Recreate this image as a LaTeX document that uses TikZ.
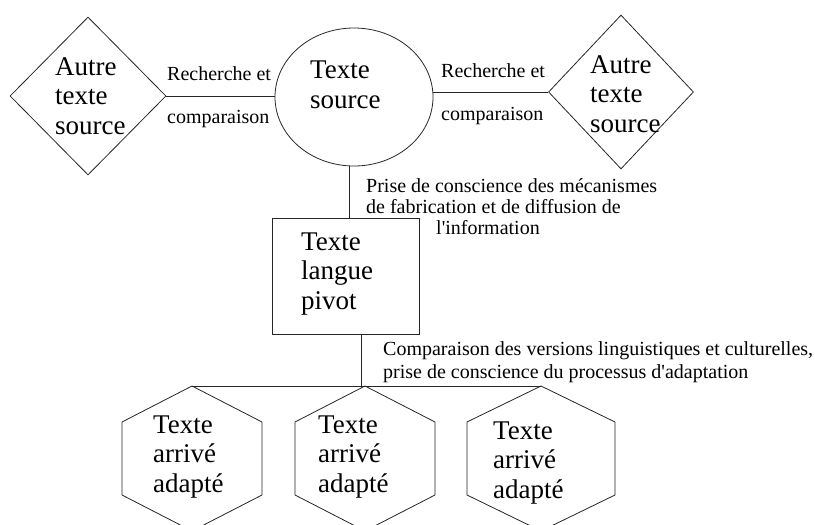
\documentclass[tikz,border=0pt]{standalone}
\usepackage{fontspec}
\setmainfont{Liberation Serif}
\usetikzlibrary{shapes.geometric,calc}
\tikzset{
  outline/.style={draw=black!85,line width=0.8pt},
  bigtext/.style={font=\fontsize{27}{29.5}\selectfont,align=left,anchor=base west,inner sep=0pt},
  smalltext/.style={font=\fontsize{20}{21}\selectfont,align=left,anchor=base west,inner sep=0pt},
}

\begin{document}
\begin{tikzpicture}[x=1pt,y=-1pt]
  \clip (0,0) rectangle (815,525);
  % top row (text nodes sit on the baseline of their last line)
  \node[outline,diamond,minimum width=156,minimum height=158,inner sep=0pt] (srcL) at (88,96) {};
  \node[outline,ellipse,minimum width=158,minimum height=138,inner sep=0pt] (srcC) at (354,97) {};
  \node[outline,diamond,minimum width=145,minimum height=154,inner sep=0pt] (srcR) at (621,92) {};
  \node[bigtext] (txtL) at (55,134) {Autre\\texte\\source};
  \node[bigtext] (txtC) at (310,108) {Texte\\source};
  \node[bigtext] (txtR) at (590,132) {Autre\\texte\\source};
  \draw[outline] (srcL.east) -- (srcL.east -| srcC.west);
  \draw[outline] (srcR.west) -- (srcR.west -| srcC.east);
  \node[smalltext] (lblSearchL) at (167,80) {Recherche et};
  \node[smalltext] (lblCompL) at (167,123) {comparaison};
  \node[smalltext] (lblSearchR) at (441,77) {Recherche et};
  \node[smalltext] (lblCompR) at (441,120) {comparaison};
  % pivot
  \node[outline,rectangle,minimum width=147,minimum height=116,inner sep=0pt] (pivot) at (345.5,276) {};
  \node[bigtext] (txtPivot) at (301,309) {Texte\\langue\\pivot};
  \coordinate (linkTop) at ([xshift=-5pt]srcC.south);
  \draw[outline] (linkTop) -- (linkTop |- pivot.north);
  \node[smalltext] (lblAware) at (366,234) {Prise de conscience des m\'ecanismes\\de fabrication et de diffusion de\\\hspace*{70pt}l\textquotesingle information};
  % target texts
  \coordinate (hexTopA) at (192,386);
  \coordinate (hexTopB) at (365,386);
  \coordinate (hexTopC) at (541,386);
  \coordinate (linkLow) at ([xshift=16pt]pivot.south);
  \draw[outline] (linkLow) -- (linkLow |- hexTopB);
  \draw[outline] (hexTopA) -- (hexTopC);
  \node[smalltext] (lblCompare) at (383,378) {Comparaison des versions linguistiques et culturelles,\\[2pt]prise de conscience du processus d\textquotesingle adaptation};
  \draw[outline] (hexTopA) -- ++(70,36) -- ++(0,73) -- ++(-70,36) -- ++(-70,-36) -- ++(0,-73) -- cycle;
  \draw[outline] (hexTopB) -- ++(70,36) -- ++(0,73) -- ++(-70,36) -- ++(-70,-36) -- ++(0,-73) -- cycle;
  \draw[outline] (hexTopC) -- ++(74,36) -- ++(0,73) -- ++(-74,36) -- ++(-74,-36) -- ++(0,-73) -- cycle;
  \node[bigtext] (txtHexA) at (153,492) {Texte\\arriv\'e\\adapt\'e};
  \node[bigtext] (txtHexB) at (318,492) {Texte\\arriv\'e\\adapt\'e};
  \node[bigtext] (txtHexC) at (493,498) {Texte\\arriv\'e\\adapt\'e};
\end{tikzpicture}
\end{document}
